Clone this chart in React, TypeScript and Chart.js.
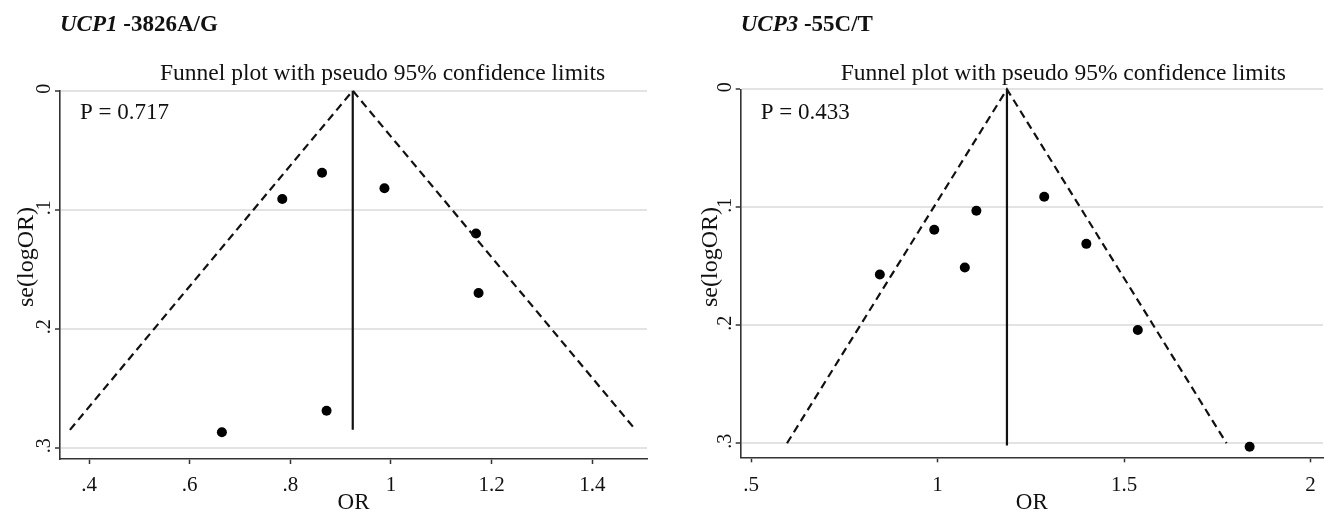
import React, { useEffect, useRef } from "react";
import { Chart, registerables } from "chart.js";

Chart.register(...registerables);

// ---------- shared texts ----------
const TITLE = "Funnel plot with pseudo 95% confidence limits";
const X_TITLE = "OR";
const Y_TITLE = "se(logOR)";

// ---------- left panel: UCP1 -3826A/G ----------
const LEFT_GENE = "UCP1";
const LEFT_VARIANT = " -3826A/G";
const LEFT_P = "P = 0.717";
const LEFT_STUDY_OR = [0.863, 0.784, 0.987, 1.169, 1.174, 0.872, 0.664];
const LEFT_STUDY_SE = [0.069, 0.091, 0.082, 0.12, 0.17, 0.269, 0.287];
const LEFT_POOLED_OR = [0.924, 0.924];
const LEFT_POOLED_SE = [0, 0.285];
const LEFT_FUNNEL_OR = [0.362, 0.924, 1.486];
const LEFT_FUNNEL_SE = [0.285, 0, 0.285];
const LEFT_X_TICKS = [0.4, 0.6, 0.8, 1, 1.2, 1.4];
const LEFT_X_LABELS = [".4", ".6", ".8", "1", "1.2", "1.4"];
const LEFT_Y_TICKS = [0, 0.1, 0.2, 0.3];
const LEFT_Y_LABELS = ["0", ".1", ".2", ".3"];
const LEFT_X_RANGE = [0.3423, 1.5087];
const LEFT_Y_RANGE = [0, 0.3095];

// ---------- right panel: UCP3 -55C/T ----------
const RIGHT_GENE = "UCP3";
const RIGHT_VARIANT = " -55C/T";
const RIGHT_P = "P = 0.433";
const RIGHT_STUDY_OR = [1.286, 1.104, 0.991, 1.399, 1.073, 0.845, 1.537, 1.837];
const RIGHT_STUDY_SE = [0.091, 0.103, 0.119, 0.131, 0.151, 0.157, 0.204, 0.303];
const RIGHT_POOLED_OR = [1.186, 1.186];
const RIGHT_POOLED_SE = [0, 0.302];
const RIGHT_FUNNEL_OR = [0.596, 1.186, 1.775];
const RIGHT_FUNNEL_SE = [0.3, 0, 0.3];
const RIGHT_X_TICKS = [0.5, 1, 1.5, 2];
const RIGHT_X_LABELS = [".5", "1", "1.5", "2"];
const RIGHT_Y_TICKS = [0, 0.1, 0.2, 0.3];
const RIGHT_Y_LABELS = ["0", ".1", ".2", ".3"];
const RIGHT_X_RANGE = [0.4718, 2.0338];
const RIGHT_Y_RANGE = [0, 0.3119];

const SERIF = '"Liberation Serif", "Times New Roman", serif';
const TEXT_COLOR = "#111";
const AXIS_COLOR = "#333";
const GRID_COLOR = "#e3e3e3";

type PanelCfg = {
  left: number;
  gene: string;
  variant: string;
  pText: string;
  studyOR: number[];
  studySE: number[];
  pooledOR: number[];
  pooledSE: number[];
  funnelOR: number[];
  funnelSE: number[];
  xTicks: number[];
  xLabels: string[];
  yTicks: number[];
  yLabels: string[];
  xRange: number[];
  yRange: number[];
  padding: { left: number; right: number; top: number; bottom: number };
  yTitleOffset: number;
};

const zip = (xs: number[], ys: number[]) => xs.map((x, i) => ({ x, y: ys[i] }));

function FunnelPanel({ cfg }: { cfg: PanelCfg }) {
  const ref = useRef<HTMLCanvasElement | null>(null);

  useEffect(() => {
    if (!ref.current) return;

    const textPlugin = {
      id: "funnelTexts",
      afterDraw(chart: any) {
        const ctx = chart.ctx as CanvasRenderingContext2D;
        const area = chart.chartArea;
        const xs = chart.scales.x;
        const ys = chart.scales.y;
        ctx.save();
        ctx.fillStyle = TEXT_COLOR;

        // heading
        ctx.textBaseline = "alphabetic";
        ctx.textAlign = "left";
        ctx.font = `italic bold 23px ${SERIF}`;
        ctx.fillText(cfg.gene, area.left, 31);
        const gw = ctx.measureText(cfg.gene).width;
        ctx.font = `bold 23px ${SERIF}`;
        ctx.fillText(cfg.variant, area.left + gw, 31);

        // title
        ctx.font = `23.5px ${SERIF}`;
        ctx.fillText(TITLE, area.left + 100, 80);

        // P value
        ctx.font = `23px ${SERIF}`;
        ctx.fillText(cfg.pText, area.left + 20, 119);

        // x tick labels
        ctx.textAlign = "center";
        ctx.font = `21px ${SERIF}`;
        cfg.xTicks.forEach((v, i) => {
          ctx.fillText(cfg.xLabels[i], xs.getPixelForValue(v), 491);
        });

        // x title
        ctx.font = `23px ${SERIF}`;
        ctx.fillText(X_TITLE, (area.left + area.right) / 2, 509);

        // y tick labels (rotated)
        ctx.font = `20px ${SERIF}`;
        cfg.yTicks.forEach((v, i) => {
          ctx.save();
          ctx.translate(area.left - 15, ys.getPixelForValue(v) - 2);
          ctx.rotate(-Math.PI / 2);
          ctx.textAlign = "center";
          ctx.textBaseline = "middle";
          ctx.fillText(cfg.yLabels[i], 0, 0);
          ctx.restore();
        });

        // y title (rotated)
        ctx.save();
        ctx.translate(area.left - cfg.yTitleOffset, 257);
        ctx.rotate(-Math.PI / 2);
        ctx.textAlign = "center";
        ctx.textBaseline = "middle";
        ctx.font = `24px ${SERIF}`;
        ctx.fillText(Y_TITLE, 0, 0);
        ctx.restore();

        ctx.restore();
      },
    };

    const chart = new Chart(ref.current, {
      type: "scatter",
      data: {
        datasets: [
          {
            data: zip(cfg.funnelOR, cfg.funnelSE),
            showLine: true,
            borderColor: "#111",
            borderWidth: 2.2,
            borderDash: [8, 5],
            pointRadius: 0,
            clip: false,
          } as any,
          {
            data: zip(cfg.pooledOR, cfg.pooledSE),
            showLine: true,
            borderColor: "#111",
            borderWidth: 2.2,
            pointRadius: 0,
            clip: false,
          } as any,
          {
            data: zip(cfg.studyOR, cfg.studySE),
            backgroundColor: "#000",
            borderColor: "#000",
            borderWidth: 0,
            pointRadius: 5,
            clip: false,
          } as any,
        ],
      },
      options: {
        responsive: false,
        animation: false,
        devicePixelRatio: 1,
        events: [],
        layout: { padding: cfg.padding },
        plugins: {
          legend: { display: false },
          title: { display: false },
          tooltip: { enabled: false },
        },
        scales: {
          x: {
            type: "linear",
            min: cfg.xRange[0],
            max: cfg.xRange[1],
            afterBuildTicks: (s: any) => {
              s.ticks = cfg.xTicks.map((v) => ({ value: v }));
            },
            afterFit: (s: any) => {
              s.height = 0;
            },
            ticks: { display: false },
            grid: {
              drawOnChartArea: false,
              drawTicks: true,
              tickLength: 5,
              tickColor: AXIS_COLOR,
              tickWidth: 1.5,
            },
            border: { display: true, color: AXIS_COLOR, width: 1.6 },
          },
          y: {
            type: "linear",
            reverse: true,
            min: cfg.yRange[0],
            max: cfg.yRange[1],
            afterBuildTicks: (s: any) => {
              s.ticks = cfg.yTicks.map((v) => ({ value: v }));
            },
            afterFit: (s: any) => {
              s.width = 0;
            },
            ticks: { display: false },
            grid: {
              color: GRID_COLOR,
              lineWidth: 2,
              drawTicks: true,
              tickLength: 5,
              tickColor: AXIS_COLOR,
              tickWidth: 1.5,
            },
            border: { display: true, color: AXIS_COLOR, width: 1.6 },
          },
        },
      } as any,
      plugins: [textPlugin],
    });

    return () => chart.destroy();
  }, [cfg]);

  return (
    <canvas
      ref={ref}
      width={664}
      height={512}
      style={{ position: "absolute", left: cfg.left, top: 0, width: 664, height: 512 }}
    />
  );
}

const LEFT_CFG: PanelCfg = {
  left: 0,
  gene: LEFT_GENE,
  variant: LEFT_VARIANT,
  pText: LEFT_P,
  studyOR: LEFT_STUDY_OR,
  studySE: LEFT_STUDY_SE,
  pooledOR: LEFT_POOLED_OR,
  pooledSE: LEFT_POOLED_SE,
  funnelOR: LEFT_FUNNEL_OR,
  funnelSE: LEFT_FUNNEL_SE,
  xTicks: LEFT_X_TICKS,
  xLabels: LEFT_X_LABELS,
  yTicks: LEFT_Y_TICKS,
  yLabels: LEFT_Y_LABELS,
  xRange: LEFT_X_RANGE,
  yRange: LEFT_Y_RANGE,
  padding: { left: 60, right: 17, top: 90.7, bottom: 53 },
  yTitleOffset: 33,
};

const RIGHT_CFG: PanelCfg = {
  left: 664,
  gene: RIGHT_GENE,
  variant: RIGHT_VARIANT,
  pText: RIGHT_P,
  studyOR: RIGHT_STUDY_OR,
  studySE: RIGHT_STUDY_SE,
  pooledOR: RIGHT_POOLED_OR,
  pooledSE: RIGHT_POOLED_SE,
  funnelOR: RIGHT_FUNNEL_OR,
  funnelSE: RIGHT_FUNNEL_SE,
  xTicks: RIGHT_X_TICKS,
  xLabels: RIGHT_X_LABELS,
  yTicks: RIGHT_Y_TICKS,
  yLabels: RIGHT_Y_LABELS,
  xRange: RIGHT_X_RANGE,
  yRange: RIGHT_Y_RANGE,
  padding: { left: 76.7, right: 0, top: 89.3, bottom: 54.7 },
  yTitleOffset: 30,
};

export default function App() {
  return (
    <div
      style={{
        position: "absolute",
        left: 0,
        top: 0,
        width: 1328,
        height: 512,
        background: "#fff",
        overflow: "hidden",
      }}
    >
      <FunnelPanel cfg={LEFT_CFG} />
      <FunnelPanel cfg={RIGHT_CFG} />
    </div>
  );
}
